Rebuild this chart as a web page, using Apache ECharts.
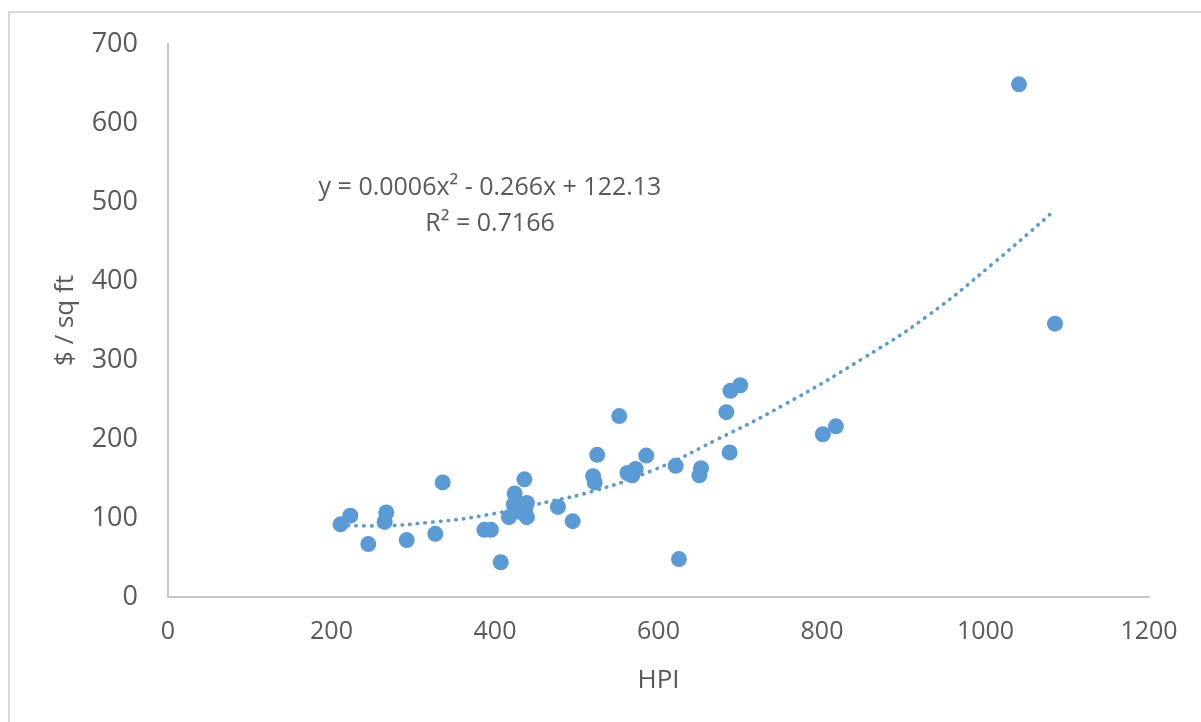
<!DOCTYPE html>
<html>
<head>
<meta charset="utf-8">
<script src="https://cdn.jsdelivr.net/npm/echarts@6/dist/echarts.min.js"></script>
<style>html,body{margin:0;padding:0;background:#fff;}#c{width:1201px;height:722px;}</style>
</head>
<body>
<div id="c"></div>
<script>
// Scatter data
var hpi   = [211,223,245,267,265,292,327,336,387,395,407,417,424,423,436,439,439,429,437,477,495,520,522,525,552,562,568,572,585,621,625,652,650,683,688,700,687,801,817,1041,1085];
var price = [92,103,67,107,95,72,80,145,85,85,44,101,131,117,149,119,101,108,111,114,96,153,145,180,229,157,154,162,179,166,48,163,154,234,261,268,183,206,216,649,346];
// Polynomial trend line
var trendX = [211,243,325,390,467,520,590,671,753,850,928,1009,1085];
var trendY = [91,90,95,104,121,134,159,199,243,302,355,422,490];
var xTicks = [0,200,400,600,800,1000,1200];
var yTicks = [0,100,200,300,400,500,600,700];
var eqText = 'y = 0.0006x\u00B2 - 0.266x + 122.13';
var r2Text = 'R\u00B2 = 0.7166';

var pts = hpi.map(function(v,i){return [v, price[i]];});
var trend = trendX.map(function(v,i){return [v, trendY[i]];});
var txt = '#595959';
var font = '"Open Sans", sans-serif';

var chart = echarts.init(document.getElementById('c'));
chart.setOption({
  backgroundColor: '#fff',
  animation: false,
  grid: {left:168, right:52, top:44, bottom:125},
  xAxis: {
    type:'value', min:xTicks[0], max:xTicks[xTicks.length-1], interval:200,
    name:'HPI', nameLocation:'middle', nameGap:71,
    nameTextStyle:{color:txt, fontSize:26, fontFamily:font},
    axisLine:{show:true, lineStyle:{color:'#C6C6C6', width:2}},
    axisTick:{show:false}, splitLine:{show:false},
    axisLabel:{color:txt, fontSize:25, fontFamily:font, margin:22, formatter:function(v){return String(v);}}
  },
  yAxis: {
    type:'value', min:yTicks[0], max:yTicks[yTicks.length-1], interval:100,
    name:'$ / sq ft', nameLocation:'middle', nameGap:89,
    nameTextStyle:{color:txt, fontSize:26, fontFamily:font},
    axisLine:{show:true, lineStyle:{color:'#C6C6C6', width:2}},
    axisTick:{show:false}, splitLine:{show:false},
    axisLabel:{color:txt, fontSize:27, fontFamily:font, margin:30, formatter:function(v){return String(v);}}
  },
  series: [
    {
      type:'line', data:trend, smooth:true, showSymbol:false, z:1, silent:true,
      lineStyle:{color:'#5B9BD5', width:3.6, type:[0.5,7.2], cap:'round'}
    },
    {
      type:'scatter', data:pts, symbol:'circle', symbolSize:16, z:3,
      itemStyle:{color:'#5B9BD5', opacity:1}
    }
  ],
  graphic: [
    {type:'rect', shape:{x:9, y:12, width:1220, height:740}, style:{fill:'none', stroke:'#D9D9D9', lineWidth:2}, z:-1, silent:true},
    {type:'text', x:490, y:188, style:{text:eqText, fill:txt, font:'25px "Open Sans", sans-serif', textAlign:'center', textVerticalAlign:'middle'}},
    {type:'text', x:490, y:224, style:{text:r2Text, fill:txt, font:'25px "Open Sans", sans-serif', textAlign:'center', textVerticalAlign:'middle'}}
  ]
});
</script>
</body>
</html>
